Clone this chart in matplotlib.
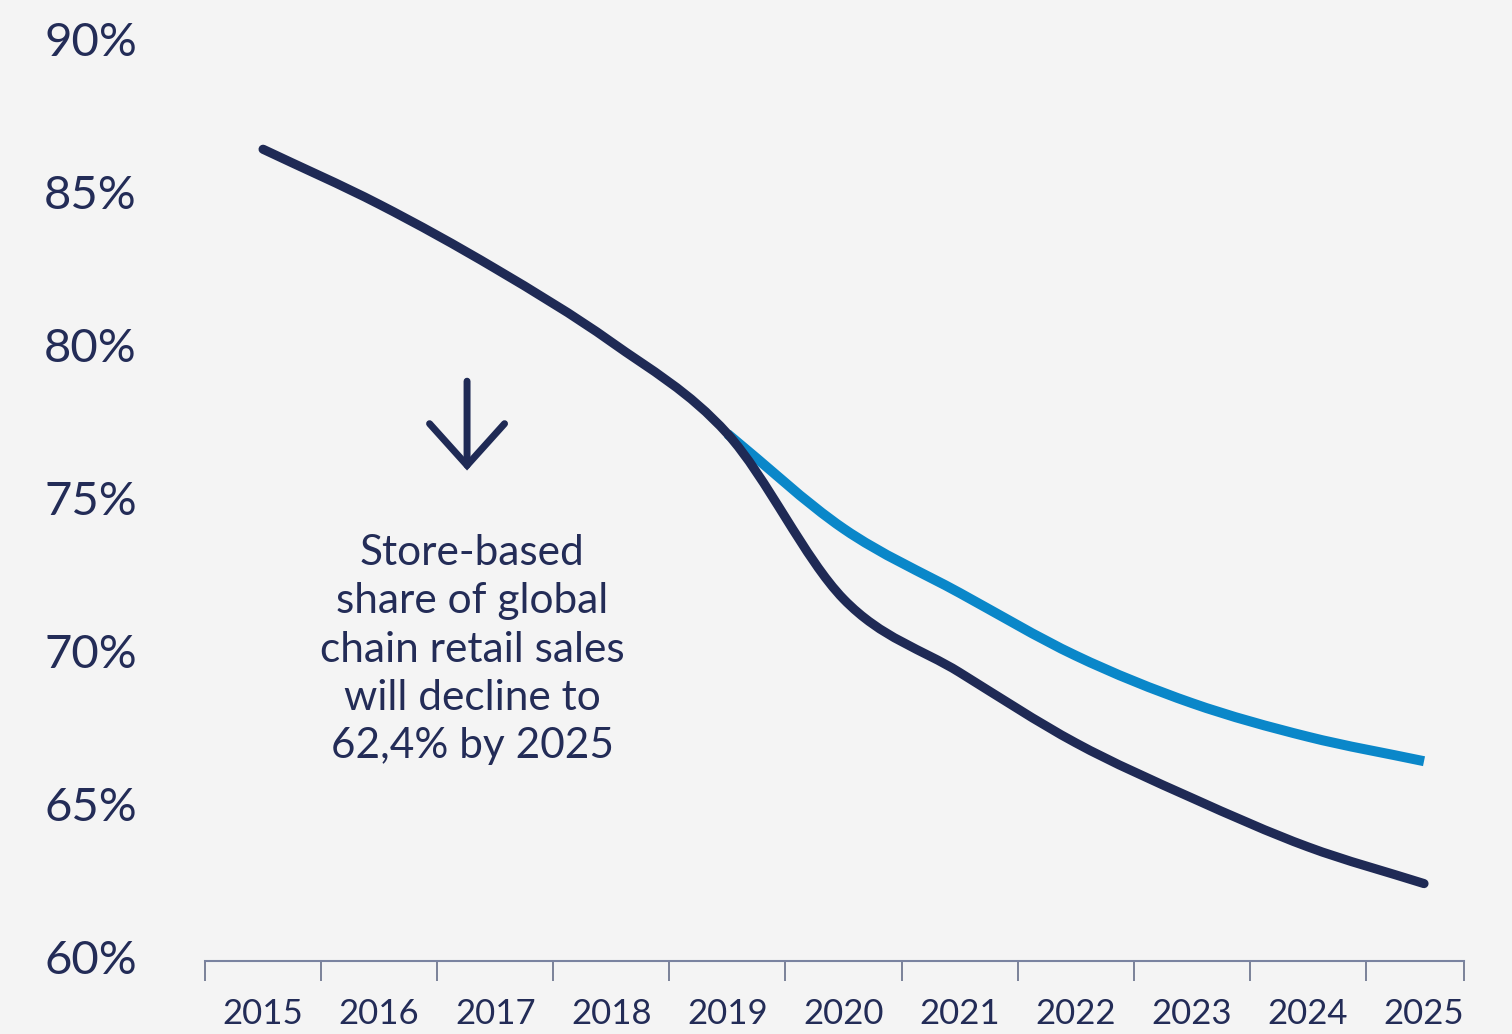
import numpy as np
import matplotlib.pyplot as plt
from matplotlib.path import Path
from matplotlib.patches import PathPatch

# store-based share of global chain retail sales, %
years = ['2015', '2016', '2017', '2018', '2019', '2020',
         '2021', '2022', '2023', '2024', '2025']
store_share = [86.4, 84.6, 82.5, 80.1, 77.1, 71.7,
               69.3, 67.0, 65.2, 63.6, 62.4]

# pre-2020 trajectory, drawn from 2019 onwards
forecast_years = ['2019', '2020', '2021', '2022', '2023', '2024', '2025']
forecast_share = [77.1, 74.0, 71.9, 69.85, 68.3, 67.2, 66.4]

y_ticks = [60, 65, 70, 75, 80, 85, 90]

navy = '#1f2a55'
blue = '#0a87c9'
text_col = '#232c57'
bg = '#f4f4f4'


def smooth_line(x, y):
    # cubic bezier through every point, catmull-rom style tangents
    x = np.asarray(x, float)
    y = np.asarray(y, float)
    n = len(x)
    slopes = np.empty(n)
    slopes[0] = (y[1] - y[0]) / (x[1] - x[0])
    slopes[-1] = (y[-1] - y[-2]) / (x[-1] - x[-2])
    slopes[1:-1] = (y[2:] - y[:-2]) / (x[2:] - x[:-2])
    verts = [(x[0], y[0])]
    codes = [Path.MOVETO]
    for i in range(n - 1):
        d = (x[i + 1] - x[i]) / 3
        verts += [(x[i] + d, y[i] + slopes[i] * d),
                  (x[i + 1] - d, y[i + 1] - slopes[i + 1] * d),
                  (x[i + 1], y[i + 1])]
        codes += [Path.CURVE4] * 3
    return Path(verts, codes)


plt.rcParams['font.family'] = ['Lato', 'DejaVu Sans']

fig = plt.figure(figsize=(15.12, 10.34), dpi=100, facecolor=bg)
ax = fig.add_axes([0.1356, 0.0706, 0.8327, 0.9197], facecolor=bg)

xs = np.arange(len(years))
fx = np.array([years.index(y) for y in forecast_years])

ax.add_patch(PathPatch(smooth_line(fx, forecast_share), fill=False,
                       edgecolor=blue, lw=7.2, capstyle='butt',
                       joinstyle='round', zorder=2))
ax.add_patch(PathPatch(smooth_line(xs, store_share), fill=False,
                       edgecolor=navy, lw=6.6, capstyle='round',
                       joinstyle='round', zorder=3))

ax.set_xlim(-0.5, 10.345)
ax.set_ylim(59.87, 90.95)

# y axis: labels only
ax.set_yticks(y_ticks)
ax.set_yticklabels([f'{v}%' for v in y_ticks])
ax.tick_params(axis='y', length=0, pad=49, labelsize=34, labelcolor=text_col)

# x axis: labels in the middle of each year, tick marks between years
ax.set_xticks(xs)
ax.set_xticklabels(years)
ax.tick_params(axis='x', which='major', length=0, pad=27, labelsize=25,
               labelcolor=text_col)
ax.set_xticks(list(np.arange(-0.5, 10, 1.0)) + [10.345], minor=True)
ax.tick_params(axis='x', which='minor', length=14.5, width=1.1,
               color='#59627f', direction='out')

for side in ['top', 'right', 'left']:
    ax.spines[side].set_visible(False)
ax.spines['bottom'].set_color('#7a83a0')
ax.spines['bottom'].set_linewidth(1.5)

# down arrow and note
ax.annotate('', xy=(1.757, 75.9), xytext=(1.757, 78.82),
            arrowprops=dict(arrowstyle='->, head_length=1.5, head_width=1.35',
                            color=navy, lw=5, shrinkA=0, shrinkB=0,
                            joinstyle='miter', mutation_scale=20))
ax.text(1.80, 70.05,
        'Store-based\nshare of global\nchain retail sales\nwill decline to\n62,4% by 2025',
        ha='center', va='center', multialignment='center', fontsize=30.5,
        color=text_col, linespacing=1.33)

fig.savefig('out.png', dpi=100, facecolor=bg)
